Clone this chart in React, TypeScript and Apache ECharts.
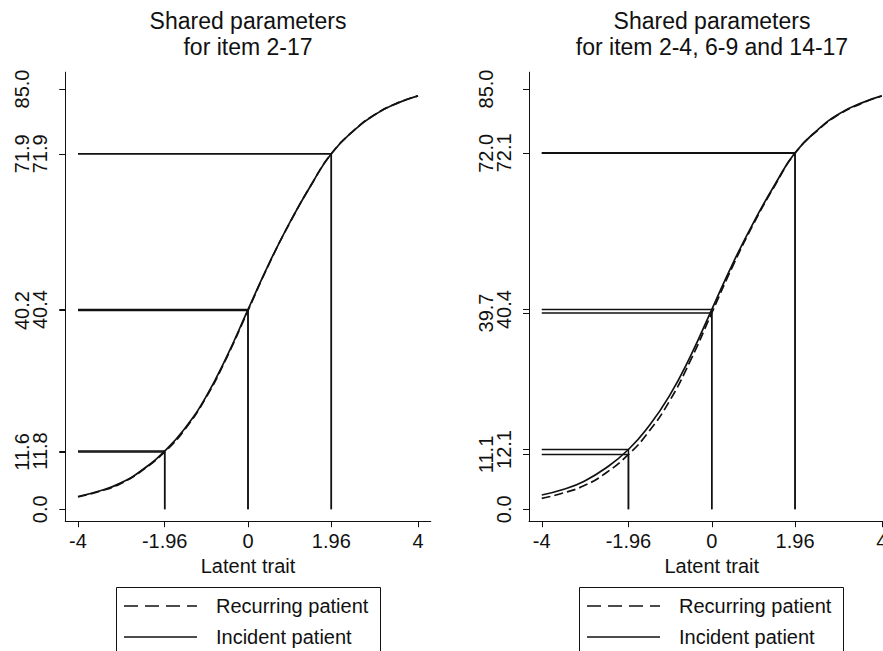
import React, { useEffect, useRef } from "react";
import * as echarts from "echarts";

// ---- data ----
const xTicks = [-4, -1.96, 0, 1.96, 4];
const xTickLabels = ["-4", "-1.96", "0", "1.96", "4"];
const curveX = [-4, -3.5, -3, -2.5, -1.96, -1.5, -1, -0.5, 0, 0.5, 1, 1.5, 1.96, 2.5, 3, 3.5, 4];

const leftIncident = [2.6, 3.7, 5.3, 7.9, 11.8, 16.2, 22.6, 30.9, 40.4, 49.8, 58.3, 65.8, 71.9, 76.7, 79.9, 82.1, 83.6];
const leftRecurring = [2.5, 3.6, 5.2, 7.8, 11.6, 16.0, 22.4, 30.7, 40.2, 49.7, 58.2, 65.8, 71.9, 76.7, 79.9, 82.1, 83.6];
const rightIncident = [2.9, 4.0, 5.7, 8.3, 12.1, 16.6, 22.9, 31.0, 40.4, 49.8, 58.3, 65.9, 72.1, 76.8, 80.0, 82.1, 83.6];
const rightRecurring = [2.2, 3.3, 4.8, 7.3, 11.1, 15.5, 21.8, 30.1, 39.7, 49.3, 58.0, 65.7, 72.0, 76.7, 79.9, 82.0, 83.6];

const refX = [-1.96, 0, 1.96];
const leftRecurringRef = [11.6, 40.2, 71.9];
const leftIncidentRef = [11.8, 40.4, 71.9];
const rightRecurringRef = [11.1, 39.7, 72.0];
const rightIncidentRef = [12.1, 40.4, 72.1];
const yTop = 85.0;
const yBottom = 0.0;

const titleLines = [
  ["Shared parameters", "for item 2-17"],
  ["Shared parameters", "for item 2-4, 6-9 and 14-17"],
];
const seriesNames = ["Recurring patient", "Incident patient"];
const xName = "Latent trait";

const FONT = "'Liberation Sans', Arial, Helvetica, sans-serif";
const INK = "#111";

function pairs(xs: number[], ys: number[]) {
  return xs.map((x, i) => [x, ys[i]]);
}

export default function App() {
  const ref = useRef<HTMLDivElement>(null);
  useEffect(() => {
    if (!ref.current) return;
    const chart = echarts.init(ref.current, undefined, { renderer: "svg" });

    const panels = [
      { left: 65.25, rec: leftRecurring, inc: leftIncident, recRef: leftRecurringRef, incRef: leftIncidentRef, center: 248, legendLeft: 116 },
      { left: 529, rec: rightRecurring, inc: rightIncident, recRef: rightRecurringRef, incRef: rightIncidentRef, center: 712, legendLeft: 579 },
    ];

    const grid: any[] = [];
    const xAxis: any[] = [];
    const yAxis: any[] = [];
    const series: any[] = [];
    const title: any[] = [];
    const graphic: any[] = [];

    panels.forEach((p, gi) => {
      grid.push({ left: p.left, top: 72.2, width: 365.5, height: 449, containLabel: false, outerBoundsMode: "none" });
      xAxis.push({
        type: "value", gridIndex: gi, min: -4.3, max: 4.3,
        name: xName, nameLocation: "middle", nameGap: 32,
        nameTextStyle: { fontSize: 20, color: INK, fontFamily: FONT },
        axisLine: { show: true, onZero: false, lineStyle: { color: INK, width: 1 } },
        axisTick: { show: true, length: 6, customValues: xTicks, lineStyle: { color: INK } },
        axisLabel: {
          customValues: xTicks, fontSize: 20, color: INK, fontFamily: FONT, margin: 10,
          formatter: (v: number) => { const k = xTicks.indexOf(v); return k >= 0 ? xTickLabels[k] : String(v); },
        },
        splitLine: { show: false },
      });
      const inner = [yBottom, ...p.incRef];
      const outer = [...p.recRef, yTop];
      const allTicks = [...inner, ...outer];
      yAxis.push({
        type: "value", gridIndex: gi, min: -2.4, max: 88.4, position: "left",
        axisLine: { show: true, onZero: false, lineStyle: { color: INK, width: 1 } },
        axisTick: { show: true, length: 6, customValues: allTicks, lineStyle: { color: INK } },
        axisLabel: { customValues: inner, rotate: 90, margin: 15, fontSize: 20, color: INK, fontFamily: FONT, formatter: (v: number) => v.toFixed(1) },
        splitLine: { show: false },
      });
      yAxis.push({
        type: "value", gridIndex: gi, min: -2.4, max: 88.4, position: "left",
        axisLine: { show: false }, axisTick: { show: false },
        axisLabel: { customValues: outer, rotate: 90, margin: 33, fontSize: 20, color: INK, fontFamily: FONT, formatter: (v: number) => v.toFixed(1) },
        splitLine: { show: false },
      });
      const yIdx = gi * 2;
      [p.recRef, p.incRef].forEach((vals) => {
        vals.forEach((v, k) => {
          series.push({
            type: "line", xAxisIndex: gi, yAxisIndex: yIdx, silent: true, symbol: "none",
            data: [[-4, v], [refX[k], v], [refX[k], yBottom]],
            lineStyle: { color: INK, width: 1.5, type: "solid" },
          });
        });
      });
      series.push({
        type: "line", name: seriesNames[0], xAxisIndex: gi, yAxisIndex: yIdx, symbol: "none", showSymbol: false,
        smooth: true,
        data: pairs(curveX, p.rec), lineStyle: { color: INK, width: 1.7, type: [9, 4] },
      });
      series.push({
        type: "line", name: seriesNames[1], xAxisIndex: gi, yAxisIndex: yIdx, symbol: "none", showSymbol: false,
        smooth: true,
        data: pairs(curveX, p.inc), lineStyle: { color: INK, width: 1.7, type: "solid" },
      });
      titleLines[gi].forEach((t, li) => {
        title.push({
          text: t, left: p.center, top: 9 + li * 26, textAlign: "center", padding: 0,
          textStyle: { fontSize: 23, lineHeight: 23, fontWeight: "normal", color: INK, fontFamily: FONT },
        });
      });
      // legend box
      const lx = p.legendLeft;
      graphic.push({ type: "rect", left: lx, top: 587, shape: { width: 264, height: 90 }, style: { fill: "#fff", stroke: INK, lineWidth: 1 }, z: 10 });
      graphic.push({ type: "line", shape: { x1: lx + 8, y1: 606, x2: lx + 81, y2: 606 }, style: { stroke: INK, lineWidth: 1.6, lineDash: [14, 7] }, z: 11 });
      graphic.push({ type: "line", shape: { x1: lx + 8, y1: 637, x2: lx + 81, y2: 637 }, style: { stroke: INK, lineWidth: 1.6 }, z: 11 });
      graphic.push({ type: "text", x: lx + 100, y: 606, style: { text: seriesNames[0], fontSize: 20, fill: INK, fontFamily: FONT, verticalAlign: "middle", align: "left" }, z: 11 });
      graphic.push({ type: "text", x: lx + 100, y: 637, style: { text: seriesNames[1], fontSize: 20, fill: INK, fontFamily: FONT, verticalAlign: "middle", align: "left" }, z: 11 });
    });

    chart.setOption({
      animation: false,
      backgroundColor: "#fff",
      textStyle: { fontFamily: FONT },
      title, grid, xAxis, yAxis, series, graphic,
    });
    return () => chart.dispose();
  }, []);
  return <div ref={ref} style={{ position: "fixed", left: 0, top: 0, width: 883, height: 651 }} />;
}
